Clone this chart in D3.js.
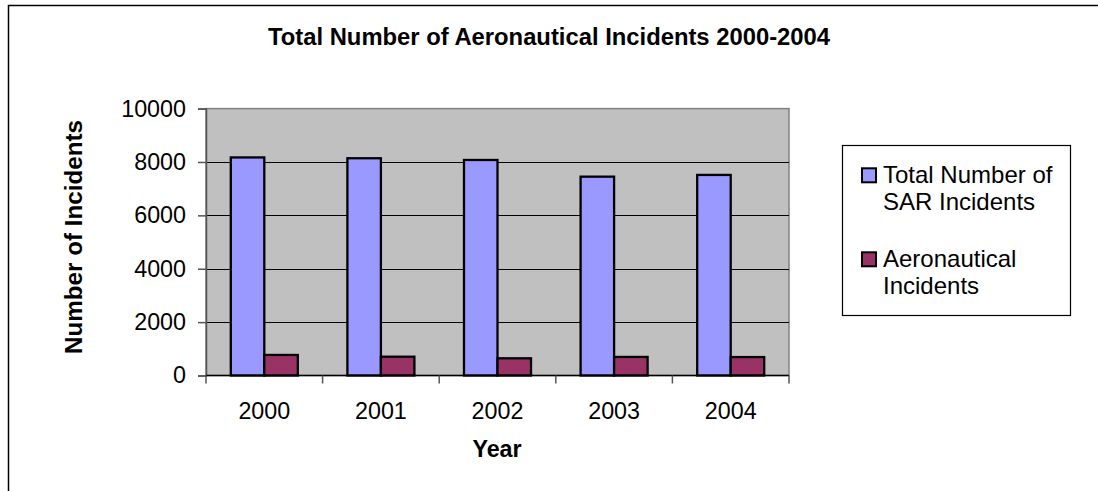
<!DOCTYPE html>
<html>
<head>
<meta charset="utf-8">
<script src="https://cdn.jsdelivr.net/npm/d3@7"></script>
<style>
  html, body { margin: 0; padding: 0; background: #ffffff; }
  svg { display: block; font-family: "Liberation Sans", Arial, sans-serif; }
</style>
</head>
<body>
<svg id="chart" width="1098" height="491"></svg>
<script>
// Yearly incident counts
const years = ["2000", "2001", "2002", "2003", "2004"];
const seriesNames = ["Total Number of SAR Incidents", "Aeronautical Incidents"];
const sarTotals = [8170, 8140, 8075, 7450, 7515];
const aeroIncidents = [770, 705, 645, 695, 690];
const yTicks = [0, 2000, 4000, 6000, 8000, 10000];
const legendLines = [["Total Number of", "SAR Incidents"], ["Aeronautical", "Incidents"]];
const colors = ["#9999FF", "#993366"];

const svg = d3.select("#chart");
const W = 1098, H = 491;

// Chart frame (right and bottom edges fall outside the view)
svg.append("rect")
  .attr("x", 8.5).attr("y", 5.5)
  .attr("width", W).attr("height", H)
  .attr("fill", "#ffffff").attr("stroke", "#000").attr("stroke-width", 1.5);

const plot = { left: 206, right: 789, top: 108.6, bottom: 375.5 };

const x0 = d3.scaleBand().domain(years).range([plot.left, plot.right]).padding(0);
const x1 = d3.scaleBand().domain(seriesNames).range([0, x0.bandwidth()])
  .paddingInner(0).paddingOuter(0.74);
const y = d3.scaleLinear().domain([0, 10000]).range([plot.bottom, plot.top]);

// Plot background
svg.append("rect")
  .attr("x", plot.left).attr("y", plot.top)
  .attr("width", plot.right - plot.left).attr("height", plot.bottom - plot.top)
  .attr("fill", "#C0C0C0").attr("stroke", "#808080").attr("stroke-width", 1.5);

// Horizontal gridlines
svg.append("g").selectAll("line")
  .data(yTicks.filter(t => t > 0 && t < 10000))
  .join("line")
  .attr("x1", plot.left).attr("x2", plot.right)
  .attr("y1", d => Math.round(y(d)) + 0.5).attr("y2", d => Math.round(y(d)) + 0.5)
  .attr("stroke", "#000").attr("stroke-width", 1);

// Bars
const data = years.map((yr, i) => ({ year: yr, values: [sarTotals[i], aeroIncidents[i]] }));
svg.append("g").selectAll("g")
  .data(data)
  .join("g")
  .attr("transform", d => `translate(${x0(d.year)},0)`)
  .selectAll("rect")
  .data(d => d.values.map((v, j) => ({ name: seriesNames[j], value: v, color: colors[j] })))
  .join("rect")
  .attr("x", d => x1(d.name))
  .attr("width", x1.bandwidth())
  .attr("y", d => y(d.value))
  .attr("height", d => y(0) - y(d.value))
  .attr("fill", d => d.color)
  .attr("stroke", "#000").attr("stroke-width", 2.3);

// Y axis
const yAxis = svg.append("g")
  .attr("transform", `translate(${plot.left},0)`)
  .call(d3.axisLeft(y).tickValues(yTicks).tickSize(8).tickPadding(12).tickFormat(d3.format("d")));
yAxis.select(".domain").attr("stroke", "#555").attr("stroke-width", 1.5);
yAxis.selectAll(".tick line").attr("stroke", "#555").attr("stroke-width", 1.5);
yAxis.selectAll(".tick text")
  .attr("font-size", 23.3).attr("fill", "#000")
  .attr("font-family", "'Liberation Sans', Arial, sans-serif");

// X axis: ticks sit between the year groups
const xAxisG = svg.append("g").attr("transform", `translate(0,${plot.bottom})`);
xAxisG.append("line")
  .attr("x1", plot.left).attr("x2", plot.right)
  .attr("y1", 0).attr("y2", 0)
  .attr("stroke", "#000").attr("stroke-width", 1.5);
const boundaries = years.map(yr => x0(yr)).concat([x0(years[years.length - 1]) + x0.bandwidth()]);
xAxisG.selectAll("line.tk")
  .data(boundaries)
  .join("line").attr("class", "tk")
  .attr("x1", d => d).attr("x2", d => d)
  .attr("y1", 0).attr("y2", 8)
  .attr("stroke", "#555").attr("stroke-width", 1.5);
xAxisG.selectAll("text")
  .data(years)
  .join("text")
  .attr("x", d => x0(d) + x0.bandwidth() / 2)
  .attr("y", 43)
  .attr("text-anchor", "middle")
  .attr("font-size", 23.3).attr("fill", "#000")
  .text(d => d);

// Titles
svg.append("text")
  .attr("x", 549).attr("y", 45)
  .attr("text-anchor", "middle")
  .attr("font-size", 23.8).attr("font-weight", "bold")
  .text("Total Number of Aeronautical Incidents 2000-2004");

svg.append("text")
  .attr("x", 497).attr("y", 457)
  .attr("text-anchor", "middle")
  .attr("font-size", 23.3).attr("font-weight", "bold")
  .text("Year");

svg.append("text")
  .attr("transform", "translate(82,237) rotate(-90)")
  .attr("text-anchor", "middle")
  .attr("font-size", 24.2).attr("font-weight", "bold")
  .text("Number of Incidents");

// Legend
const legend = svg.append("g");
legend.append("rect")
  .attr("x", 842.5).attr("y", 145.5).attr("width", 228).attr("height", 170)
  .attr("fill", "#fff").attr("stroke", "#000").attr("stroke-width", 1.2);
const entryBaselines = [183.3, 267.3];
const lineGap = 26.8;
legendLines.forEach((lines, i) => {
  legend.append("rect")
    .attr("x", 862).attr("y", entryBaselines[i] - 15)
    .attr("width", 14).attr("height", 14)
    .attr("fill", colors[i]).attr("stroke", "#000").attr("stroke-width", 2);
  lines.forEach((ln, k) => {
    legend.append("text")
      .attr("x", 883).attr("y", entryBaselines[i] + k * lineGap)
      .attr("font-size", 24).attr("fill", "#000")
      .text(ln);
  });
});
</script>
</body>
</html>
